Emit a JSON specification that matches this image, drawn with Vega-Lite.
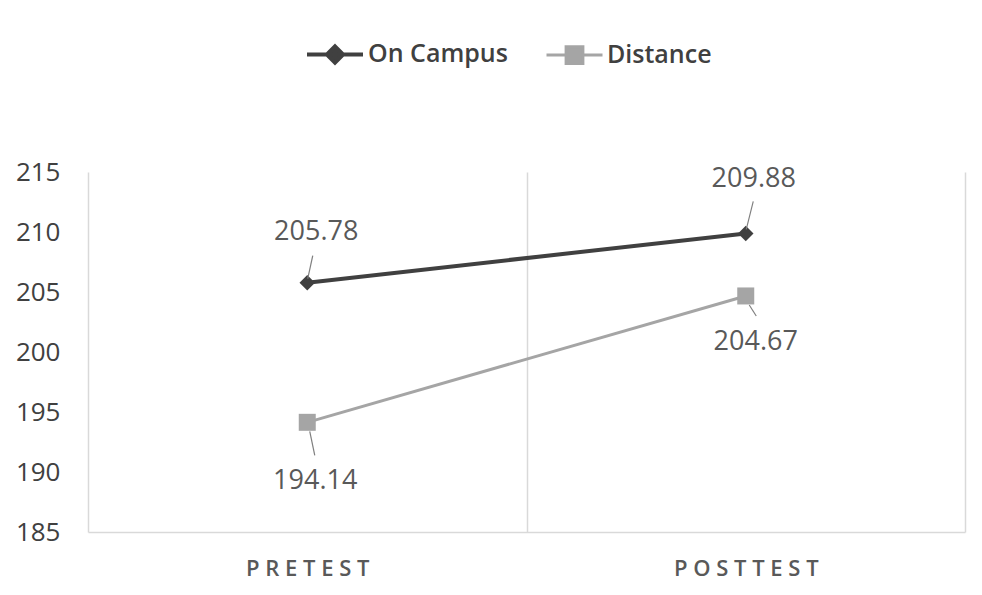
{
  "$schema": "https://vega.github.io/schema/vega-lite/v6.json",
  "width": 877,
  "height": 360,
  "autosize": {"type": "none"},
  "padding": {"left": 88, "top": 172, "right": 17, "bottom": 63},
  "background": "white",
  "config": {"view": {"stroke": null}, "font": "Open Sans"},
  "data": {
    "values": [
      {"phase": "PRETEST", "series": "On Campus", "score": 205.78},
      {"phase": "POSTTEST", "series": "On Campus", "score": 209.88},
      {"phase": "PRETEST", "series": "Distance", "score": 194.14},
      {"phase": "POSTTEST", "series": "Distance", "score": 204.67}
    ]
  },
  "encoding": {
    "x": {
      "field": "phase",
      "type": "nominal",
      "sort": ["PRETEST", "POSTTEST"],
      "scale": {"paddingInner": 0, "paddingOuter": 0},
      "axis": {
        "title": null,
        "labelAngle": 0,
        "tickBand": "extent",
        "grid": true,
        "gridColor": "#d9d9d9",
        "gridWidth": 1.5,
        "ticks": false,
        "domainColor": "#d9d9d9",
        "domainWidth": 1.5,
        "labelFont": "Open Sans",
        "labelFontSize": 22,
        "labelFontWeight": 600,
        "labelColor": "#595959",
        "labelPadding": 26,
        "labelExpr": "join(split(datum.label, ''), ' ')"
      }
    },
    "y": {
      "field": "score",
      "type": "quantitative",
      "scale": {"domain": [185, 215], "nice": false, "zero": false},
      "axis": {
        "title": null,
        "values": [185, 190, 195, 200, 205, 210, 215],
        "grid": false,
        "domain": false,
        "ticks": false,
        "labelFont": "Open Sans",
        "labelFontSize": 26,
        "labelColor": "#404040",
        "labelPadding": 28
      }
    },
    "color": {
      "field": "series",
      "type": "nominal",
      "scale": {"domain": ["On Campus", "Distance"], "range": ["#404040", "#a5a5a5"]},
      "legend": {
        "orient": "none",
        "legendX": 217,
        "legendY": -148,
        "direction": "horizontal",
        "title": null,
        "padding": 0,
        "symbolSize": 3136,
        "symbolStrokeWidth": 3.5,
        "labelFont": "Open Sans",
        "labelFontSize": 25,
        "labelFontWeight": 600,
        "labelColor": "#404040",
        "labelOffset": 3,
        "columnPadding": 32,
        "encode": {
          "symbols": {
            "update": {
              "shape": {"signal": "datum.value === 'On Campus' ? 'M-1,0H1M0,-0.29L0.29,0L0,0.29L-0.29,0Z' : 'M-1,0H1M-0.3,-0.3H0.3V0.3H-0.3Z'"},
              "fill": {"scale": "color", "field": "value"},
              "stroke": {"scale": "color", "field": "value"},
              "strokeWidth": {"signal": "datum.value === 'On Campus' ? 4 : 3"},
              "opacity": {"value": 1}
            }
          }
        }
      }
    }
  },
  "layer": [
    {
      "mark": {"type": "line"},
      "encoding": {
        "strokeWidth": {
          "field": "series",
          "type": "ordinal",
          "scale": {"domain": ["On Campus", "Distance"], "range": [4, 3]},
          "legend": null
        }
      }
    },
    {
      "transform": [{"filter": "datum.series === 'On Campus'"}],
      "mark": {"type": "point", "shape": "diamond", "size": 240, "filled": true, "opacity": 1}
    },
    {
      "transform": [{"filter": "datum.series === 'Distance'"}],
      "mark": {"type": "point", "shape": "square", "size": 289, "filled": true, "opacity": 1}
    },
    {
      "transform": [{"filter": "datum.series === 'On Campus' && datum.phase === 'PRETEST'"}],
      "mark": {"type": "rule", "strokeWidth": 1.2, "xOffset": 0.5, "x2Offset": 5.5, "yOffset": -4, "y2Offset": -27},
      "encoding": {"x2": {"field": "phase"}, "y2": {"field": "score"}, "color": {"value": "#7f7f7f"}}
    },
    {
      "transform": [{"filter": "datum.series === 'On Campus' && datum.phase === 'POSTTEST'"}],
      "mark": {"type": "rule", "strokeWidth": 1.2, "xOffset": 0.5, "x2Offset": 7.5, "yOffset": -4, "y2Offset": -32},
      "encoding": {"x2": {"field": "phase"}, "y2": {"field": "score"}, "color": {"value": "#7f7f7f"}}
    },
    {
      "transform": [{"filter": "datum.series === 'Distance' && datum.phase === 'PRETEST'"}],
      "mark": {"type": "rule", "strokeWidth": 1.2, "xOffset": 2.5, "x2Offset": 7.5, "yOffset": 9, "y2Offset": 33},
      "encoding": {"x2": {"field": "phase"}, "y2": {"field": "score"}, "color": {"value": "#7f7f7f"}}
    },
    {
      "transform": [{"filter": "datum.series === 'Distance' && datum.phase === 'POSTTEST'"}],
      "mark": {"type": "rule", "strokeWidth": 1.2, "xOffset": 3.5, "x2Offset": 10.5, "yOffset": 9, "y2Offset": 20},
      "encoding": {"x2": {"field": "phase"}, "y2": {"field": "score"}, "color": {"value": "#7f7f7f"}}
    },
    {
      "transform": [{"filter": "datum.series === 'On Campus' && datum.phase === 'PRETEST'"}],
      "mark": {"type": "text", "font": "Open Sans", "fontSize": 27, "dx": 9, "dy": -51, "baseline": "middle"},
      "encoding": {"text": {"field": "score", "type": "quantitative", "format": ".2f"}, "color": {"value": "#595959"}}
    },
    {
      "transform": [{"filter": "datum.series === 'On Campus' && datum.phase === 'POSTTEST'"}],
      "mark": {"type": "text", "font": "Open Sans", "fontSize": 27, "dx": 8, "dy": -54, "baseline": "middle"},
      "encoding": {"text": {"field": "score", "type": "quantitative", "format": ".2f"}, "color": {"value": "#595959"}}
    },
    {
      "transform": [{"filter": "datum.series === 'Distance' && datum.phase === 'PRETEST'"}],
      "mark": {"type": "text", "font": "Open Sans", "fontSize": 27, "dx": 8, "dy": 59, "baseline": "middle"},
      "encoding": {"text": {"field": "score", "type": "quantitative", "format": ".2f"}, "color": {"value": "#595959"}}
    },
    {
      "transform": [{"filter": "datum.series === 'Distance' && datum.phase === 'POSTTEST'"}],
      "mark": {"type": "text", "font": "Open Sans", "fontSize": 27, "dx": 10, "dy": 46, "baseline": "middle"},
      "encoding": {"text": {"field": "score", "type": "quantitative", "format": ".2f"}, "color": {"value": "#595959"}}
    }
  ]
}
